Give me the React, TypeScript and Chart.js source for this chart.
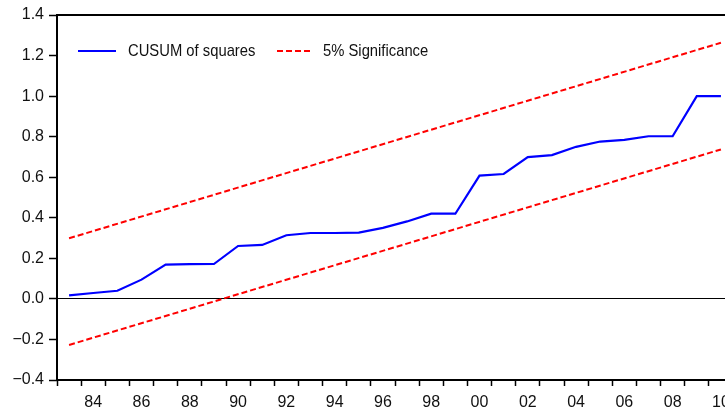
import React, { useEffect, useRef } from "react";
import { Chart, registerables } from "chart.js";

Chart.register(...registerables);

const years = [
  1983, 1984, 1985, 1986, 1987, 1988, 1989, 1990, 1991, 1992, 1993, 1994, 1995, 1996,
  1997, 1998, 1999, 2000, 2001, 2002, 2003, 2004, 2005, 2006, 2007, 2008, 2009, 2010,
];
const cusumSquares = [
  0.017, 0.029, 0.04, 0.095, 0.169, 0.171, 0.172, 0.261, 0.266, 0.314, 0.325, 0.325, 0.327, 0.35,
  0.382, 0.42, 0.42, 0.608, 0.616, 0.699, 0.709, 0.75, 0.776, 0.784, 0.802, 0.802, 1.0, 1.0,
];
const boundYears = [1983, 2010];
const upperBound = [0.299, 1.263];
const lowerBound = [-0.227, 0.737];
const labeledYears = [1984, 1986, 1988, 1990, 1992, 1994, 1996, 1998, 2000, 2002, 2004, 2006, 2008, 2010];
const yTicks = [-0.4, -0.2, 0, 0.2, 0.4, 0.6, 0.8, 1.0, 1.2, 1.4];
const legendLabels = ["CUSUM of squares", "5% Significance"];

const FONT = "'Liberation Sans', Arial, sans-serif";
const TEXT = "#111";

const framePlugin = {
  id: "frame",
  afterDraw(chart: any) {
    const { ctx, chartArea } = chart;
    ctx.save();
    ctx.strokeStyle = "#000";
    ctx.lineWidth = 2;
    ctx.setLineDash([]);
    ctx.strokeRect(chartArea.left, chartArea.top, chartArea.right - chartArea.left, chartArea.bottom - chartArea.top);
    ctx.restore();
  },
};

function condensedText(ctx: any, text: string, x: number, y: number, sx: number) {
  ctx.save();
  ctx.translate(x, y);
  ctx.scale(sx, 1);
  ctx.fillText(text, 0, 0);
  ctx.restore();
}

const legendPlugin = {
  id: "insideLegend",
  afterDraw(chart: any) {
    const { ctx, chartArea } = chart;
    const y = chartArea.top + 36;
    ctx.save();
    ctx.font = `17px ${FONT}`;
    ctx.textBaseline = "middle";
    ctx.textAlign = "left";
    ctx.fillStyle = TEXT;
    // blue sample
    let x = chartArea.left + 21;
    ctx.strokeStyle = "#0000ff";
    ctx.lineWidth = 2;
    ctx.setLineDash([]);
    ctx.beginPath();
    ctx.moveTo(x, y);
    ctx.lineTo(x + 38, y);
    ctx.stroke();
    condensedText(ctx, legendLabels[0], x + 50, y, 0.87);
    // red sample
    x = chartArea.left + 220;
    ctx.strokeStyle = "#ff0000";
    ctx.setLineDash([6, 3]);
    ctx.beginPath();
    ctx.moveTo(x, y);
    ctx.lineTo(x + 36, y);
    ctx.stroke();
    ctx.setLineDash([]);
    condensedText(ctx, legendLabels[1], x + 46, y, 0.87);
    ctx.restore();
  },
};

export default function App() {
  const ref = useRef<HTMLCanvasElement>(null);
  useEffect(() => {
    if (!ref.current) return;
    const chart = new Chart(ref.current, {
      type: "line",
      data: {
        datasets: [
          {
            label: legendLabels[0],
            data: years.map((x, i) => ({ x, y: cusumSquares[i] })),
            borderColor: "#0000ff",
            borderWidth: 2.2,
            pointRadius: 0,
            tension: 0,
          },
          {
            label: legendLabels[1],
            data: boundYears.map((x, i) => ({ x, y: upperBound[i] })),
            borderColor: "#ff0000",
            borderWidth: 2,
            borderDash: [6, 3],
            pointRadius: 0,
          },
          {
            label: legendLabels[1] + " (lower)",
            data: boundYears.map((x, i) => ({ x, y: lowerBound[i] })),
            borderColor: "#ff0000",
            borderWidth: 2,
            borderDash: [6, 3],
            pointRadius: 0,
          },
        ],
      },
      options: {
        animation: false,
        responsive: false,
        maintainAspectRatio: false,
        layout: { padding: { left: 0, right: 27, top: 15, bottom: 0 } },
        plugins: { legend: { display: false }, tooltip: { enabled: false } },
        scales: {
          x: {
            type: "linear",
            min: years[0] - 0.5,
            max: years[years.length - 1] + 0.5,
            afterBuildTicks(scale: any) {
              const t: any[] = [];
              for (let v = years[0] - 0.5; v <= years[years.length - 1] + 0.5 + 1e-9; v += 0.5) {
                t.push({ value: v });
              }
              scale.ticks = t;
            },
            afterFit(scale: any) {
              scale.height = 30;
            },
            border: { display: false },
            grid: {
              drawOnChartArea: false,
              tickLength: 6,
              tickWidth: 1.5,
              tickColor: (ctx: any) =>
                ctx.tick && Number.isInteger(ctx.tick.value) ? "rgba(0,0,0,0)" : "#000",
            },
            ticks: {
              autoSkip: false,
              maxRotation: 0,
              minRotation: 0,
              padding: 7,
              color: TEXT,
              font: { family: FONT, size: 16 },
              callback: (v: any) =>
                labeledYears.includes(v) ? String(v % 100).padStart(2, "0") : "",
            },
          },
          y: {
            type: "linear",
            min: yTicks[0],
            max: yTicks[yTicks.length - 1],
            afterBuildTicks(scale: any) {
              scale.ticks = yTicks.map((value) => ({ value }));
            },
            afterFit(scale: any) {
              scale.width = 57;
            },
            border: { display: false },
            grid: {
              drawOnChartArea: true,
              lineWidth: 1,
              color: (ctx: any) => (ctx.tick && Math.abs(ctx.tick.value) < 1e-9 ? "#000" : "rgba(0,0,0,0)"),
              tickLength: 8,
              tickWidth: 1.5,
              tickColor: "#000",
            },
            ticks: {
              padding: 5,
              color: TEXT,
              font: { family: FONT, size: 16 },
              callback: (v: any) => {
                const s = Number(v).toFixed(1);
                return s.startsWith("-") ? "\u2212" + s.slice(1) : s;
              },
            },
          },
        },
      },
      plugins: [framePlugin, legendPlugin],
    });
    return () => chart.destroy();
  }, []);
  return (
    <div style={{ position: "fixed", left: 0, top: 0, width: 760, height: 410, overflow: "hidden", background: "#fff" }}>
      <canvas ref={ref} width={760} height={410} style={{ width: 760, height: 410, display: "block" }} />
    </div>
  );
}
